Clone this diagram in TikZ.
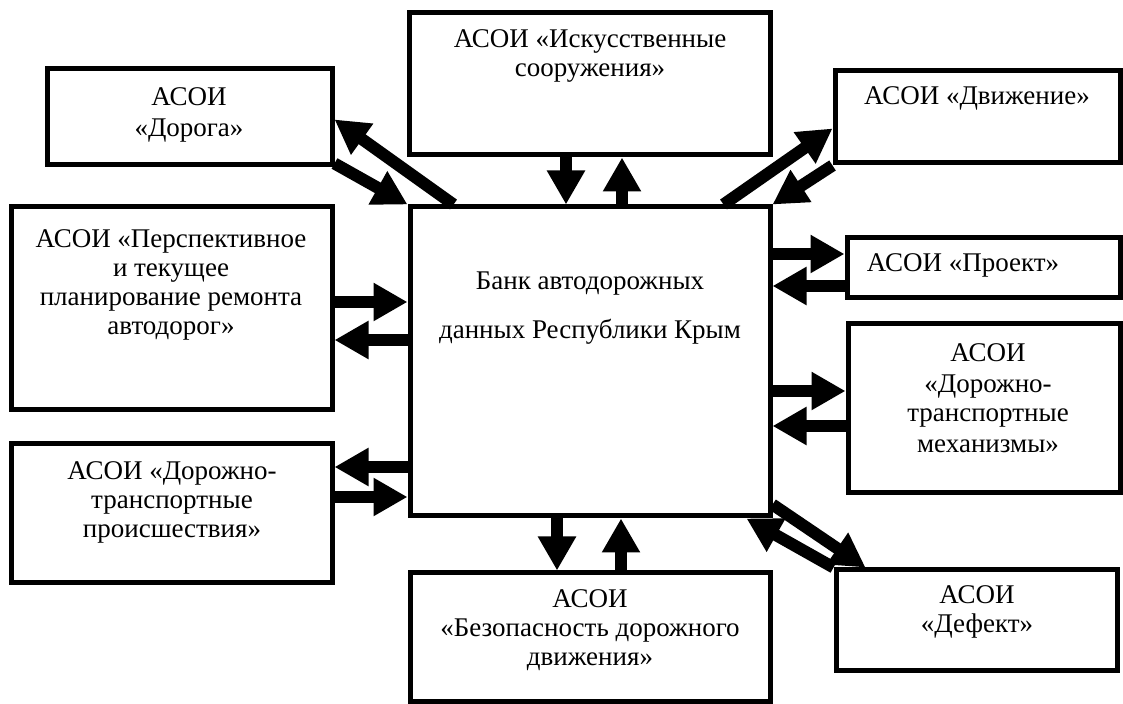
\documentclass[tikz,border=0pt]{standalone}
\usepackage{fontspec}
\setmainfont{Liberation Serif}
\usetikzlibrary{arrows.meta,fit,calc}
\tikzset{
  blk/.style={draw, line width=2.5pt, inner sep=0pt},
  txt/.style={align=center, inner sep=0pt, font=\fontsize{13.5pt}{14.5pt}\selectfont},
  arr/.style={line width=6pt, -{Triangle[length=17pt,width=18pt]}},
}
\begin{document}
\begin{tikzpicture}[x=0.5pt,y=-0.5pt]
  \useasboundingbox (0,0) rectangle (1123,704);
  \node[blk, fit={(47,69) (332,165)}] (dor) {};
  \node[blk, fit={(409,13) (770,155)}] (isk) {};
  \node[blk, fit={(835,71) (1120,163)}] (dvi) {};
  \node[blk, fit={(847,238) (1120,298)}] (proj) {};
  \node[blk, fit={(11,207) (332,410)}] (per) {};
  \node[blk, fit={(11,444) (332,583)}] (dtp) {};
  \node[blk, fit={(410,207) (770,516)}] (bank) {};
  \node[blk, fit={(410,573) (770,701)}] (bez) {};
  \node[blk, fit={(848,324) (1120,493)}] (mech) {};
  \node[blk, fit={(836,570) (1117,670)}] (def) {};
  \node[txt] (dort) at (189,115) {АСОИ\\[1pt]«Дорога»};
  \node[txt] (iskt) at (590,56) {АСОИ «Искусственные\\сооружения»};
  \node[txt] (dvit) at (977,98) {АСОИ «Движение»};
  \node[txt] (projt) at (963,265) {АСОИ «Проект»};
  \node[txt] (pert) at (171,285) {АСОИ «Перспективное\\и текущее\\планирование ремонта\\автодорог»};
  \node[txt] (dtpt) at (172,502) {АСОИ «Дорожно-\\транспортные\\происшествия»};
  \node[txt] (bankt) at (590,308) {Банк автодорожных\\[10pt]данных Республики Крым};
  \node[txt] (bezt) at (590,630) {АСОИ\\«Безопасность дорожного\\движения»};
  \node[txt] (mecht) at (988,398) {АСОИ\\[1pt]«Дорожно-\\транспортные\\[1pt]механизмы»};
  \node[txt] (deft) at (977,612) {АСОИ\\«Дефект»};
  \begin{scope}[arr]
    \draw ($(bank.north west)+(46,0)$) -- ($(dor.north east)+(0,53)$);
    \draw ($(dor.south east)+(0,-4)$) -- (bank.north west);
    \draw (isk.south -| 566,0) -- (bank.north -| 566,0);
    \draw (bank.north -| 622,0) -- (isk.south -| 622,0);
    \draw ($(bank.north east)+(-49,0)$) -- ($(dvi.south west)+(0,-37)$);
    \draw (dvi.south west) -- (bank.north east);
    \draw (bank.east |- 0,254) -- (proj.west |- 0,254);
    \draw (proj.west |- 0,286) -- (bank.east |- 0,286);
    \draw (bank.east |- 0,391) -- (mech.west |- 0,391);
    \draw (mech.west |- 0,426) -- (bank.east |- 0,426);
    \draw ($(bank.south east)+(0,-14)$) -- ($(def.north west)+(32,0)$);
    \draw (def.north west) -- ($(bank.south east)+(-26,0)$);
    \draw (bank.south -| 557,0) -- (bez.north -| 557,0);
    \draw (bez.north -| 621,0) -- (bank.south -| 621,0);
    \draw (per.east |- 0,302) -- (bank.west |- 0,302);
    \draw (bank.west |- 0,340) -- (per.east |- 0,340);
    \draw (bank.west |- 0,467) -- (dtp.east |- 0,467);
    \draw (dtp.east |- 0,497) -- (bank.west |- 0,497);
  \end{scope}
\end{tikzpicture}
\end{document}
